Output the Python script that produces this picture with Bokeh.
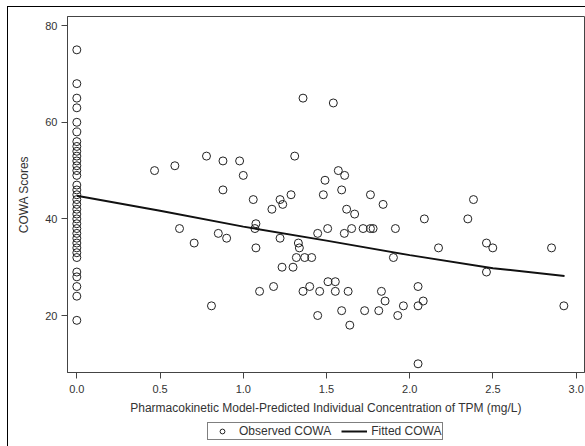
from bokeh.plotting import figure
from bokeh.layouts import column
from bokeh.models import Range1d, FixedTicker, Legend, LegendItem, NumeralTickFormatter
from bokeh.embed import file_html
from bokeh.resources import INLINE

# ---- data ----
zero_scores = [75, 68, 65, 63, 60, 58, 56, 55, 54, 53, 52, 51, 50, 49, 47, 46, 45, 44,
               43, 42, 41, 40, 39, 38, 37, 36, 35, 34, 33, 32, 29, 28, 26, 24, 19]

conc = [0.467, 0.589, 0.617, 0.705, 0.779, 0.809, 0.850, 0.878, 0.878, 0.900, 0.978, 1.000,
        1.060, 1.070, 1.076, 1.076, 1.098, 1.172, 1.182, 1.221, 1.221, 1.233, 1.237, 1.287,
        1.299, 1.309, 1.331, 1.337, 1.319, 1.359, 1.359, 1.369, 1.399, 1.411, 1.447, 1.447,
        1.459, 1.481, 1.491, 1.507, 1.509, 1.541, 1.553, 1.553, 1.571, 1.591, 1.591, 1.607,
        1.609, 1.621, 1.630, 1.640, 1.651, 1.669, 1.720, 1.729, 1.764, 1.764, 1.780, 1.814,
        1.830, 1.840, 1.852, 1.902, 1.914, 1.928, 1.962, 2.050, 2.050, 2.050, 2.081, 2.088,
        2.173, 2.349, 2.383, 2.461, 2.461, 2.499, 2.852, 2.926]
scores = [50, 51, 38, 35, 53, 22, 37, 52, 46, 36, 52, 49,
          44, 38, 39, 34, 25, 42, 26, 44, 36, 30, 43, 45,
          30, 53, 35, 34, 32, 65, 25, 32, 26, 32, 37, 20,
          25, 45, 48, 38, 27, 64, 27, 25, 50, 46, 21, 37,
          49, 42, 25, 18, 38, 41, 38, 21, 45, 38, 38, 21,
          25, 43, 23, 32, 38, 20, 22, 26, 22, 10, 23, 40,
          34, 40, 44, 35, 29, 34, 34, 22]

fit_x = [0.0, 0.5, 1.0, 1.5, 2.0, 2.5, 2.93]
fit_y = [44.8, 41.7, 38.4, 35.5, 32.5, 29.8, 28.2]

x_ticks = [0.0, 0.5, 1.0, 1.5, 2.0, 2.5, 3.0]
y_ticks = [20, 40, 60, 80]

obs_x = [0.0] * len(zero_scores) + conc
obs_y = zero_scores + scores

FONT = "Liberation Sans"
TXT = "#333333"
FS = "12px"

p = figure(width=577, height=411,
           x_range=Range1d(-0.056, 3.05), y_range=Range1d(8.2, 81.9),
           output_backend="svg", toolbar_location=None,
           min_border_left=59, min_border_right=1, min_border_top=9, min_border_bottom=46)

p.grid.visible = False
p.outline_line_color = "#444444"
p.outline_line_width = 1

for ax in (p.xaxis[0], p.yaxis[0]):
    ax.axis_line_color = "#444444"
    ax.major_tick_line_color = "#444444"
    ax.minor_tick_line_color = None
    ax.major_tick_out = 6
    ax.major_tick_in = 0
    ax.major_label_text_font = FONT
    ax.major_label_text_font_size = "11px"
    ax.major_label_text_color = TXT
    ax.axis_label_text_font = FONT
    ax.axis_label_text_font_size = FS
    ax.axis_label_text_font_style = "normal"
    ax.axis_label_text_color = TXT

p.xaxis.ticker = FixedTicker(ticks=x_ticks)
p.xaxis.formatter = NumeralTickFormatter(format="0.0")
p.yaxis.ticker = FixedTicker(ticks=y_ticks)
p.xaxis.axis_label = "Pharmacokinetic Model-Predicted Individual Concentration of TPM (mg/L)"
p.yaxis.axis_label = "COWA Scores"
p.xaxis.major_label_standoff = 6
p.yaxis.major_label_standoff = 4
p.xaxis.axis_label_standoff = 5
p.yaxis.axis_label_standoff = 11

pts = p.scatter(obs_x, obs_y, marker="circle", size=8, fill_color=None,
                line_color="#222222", line_width=1)
ln = p.line(fit_x, fit_y, line_color="#111111", line_width=2)

# legend strip under the plot (its renderers sit outside the visible range)
q = figure(width=577, height=28, x_range=Range1d(0, 1), y_range=Range1d(0, 1),
           output_backend="svg", toolbar_location=None,
           x_axis_location=None, y_axis_location=None,
           min_border_left=0, min_border_right=0, min_border_top=0, min_border_bottom=0)
q.grid.visible = False
q.outline_line_color = None
lg_pts = q.scatter([5], [5], marker="circle", size=8, fill_color=None,
                   line_color="#222222", line_width=1)
lg_ln = q.line([5, 6], [5, 6], line_color="#111111", line_width=2)

legend = Legend(items=[LegendItem(label="Observed COWA", renderers=[lg_pts]),
                       LegendItem(label="Fitted COWA", renderers=[lg_ln])],
                orientation="horizontal", location=(140, 6))
legend.label_text_font = FONT
legend.label_text_font_size = FS
legend.label_text_color = TXT
legend.border_line_color = "#000000"
legend.border_line_width = 1
legend.background_fill_alpha = 0
legend.padding = 1
legend.margin = 0
legend.spacing = 10
legend.glyph_width = 26
legend.glyph_height = 12
legend.label_height = 12
legend.label_standoff = 4
q.add_layout(legend, "center")

layout = column(p, q, spacing=0, margin=(6, 0, 0, 7),
                styles={"border-left": "1px solid #000000", "border-top": "1px solid #000000"})

open("out.html", "w").write(file_html(layout, INLINE))
